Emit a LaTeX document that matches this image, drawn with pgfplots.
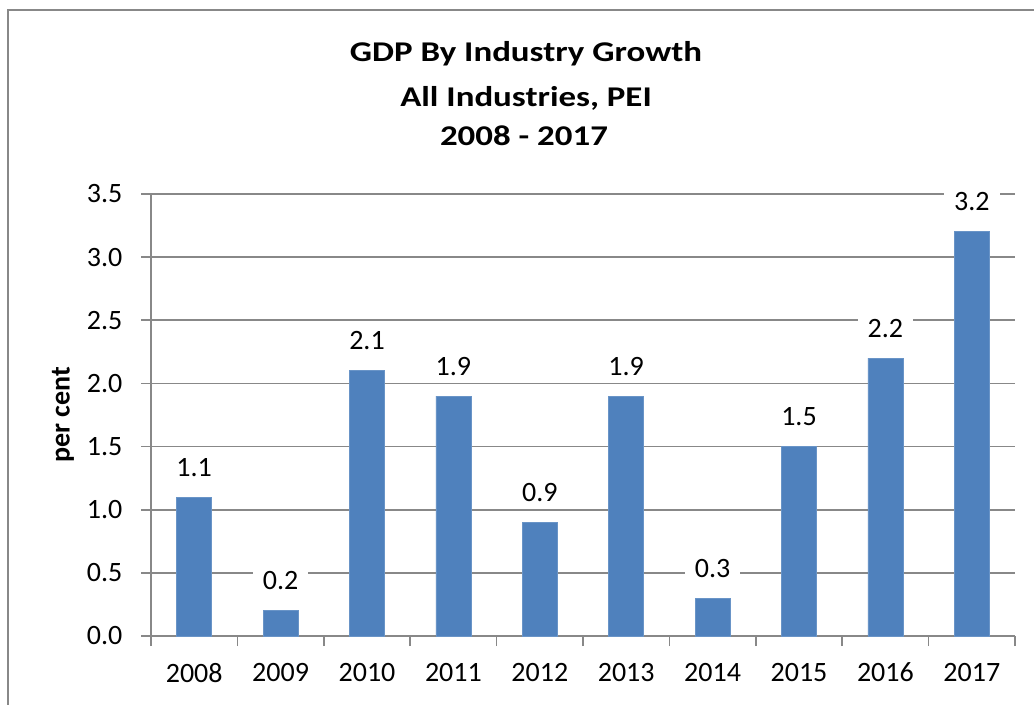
\documentclass[border=0pt]{standalone}
\usepackage{fontspec}
\setmainfont{Carlito}
\usepackage{graphicx}
\usepackage{pgfplots}
\pgfplotsset{compat=1.18}
\definecolor{barblue}{HTML}{4F81BD}
\definecolor{gridgray}{HTML}{888888}
\newcommand{\charttitle}[1]{\scalebox{1.22}[1]{\bfseries\fontsize{14.3}{16}\selectfont #1}}
\begin{document}
\begin{tikzpicture}
\useasboundingbox (0,0) rectangle (517pt,-352.5pt);
% chart frame (only top and left edges show)
\draw[gridgray, line width=0.9pt] (4pt,-400pt) -- (4pt,-5pt) -- (600pt,-5pt);
\begin{axis}[
    at={(75.5pt,-318pt)}, anchor=south west,
    width=432pt, height=221pt, scale only axis,
    font=\fontsize{14}{16}\selectfont,
    xmin=0.5, xmax=10.5,
    ymin=0, ymax=3.5,
    axis x line*=bottom, axis y line*=left,
    axis line style={gridgray, line width=0.8pt, -},
    tick align=outside,
    major tick length=5pt,
    tick style={gridgray, line width=0.8pt},
    ymajorgrids,
    grid style={gridgray, line width=0.8pt},
    ytick={0,0.5,...,3.5},
    yticklabel style={/pgf/number format/fixed, /pgf/number format/fixed zerofill,
        /pgf/number format/precision=1, xshift=-5.8pt},
    /pgf/number format/assume math mode=true,
    xtick={0.5,1.5,...,10.5},
    xticklabels={},
    extra x ticks={1,2,...,10},
    extra x tick labels={2008,2009,2010,2011,2012,2013,2014,2015,2016,2017},
    extra x tick style={grid=none, tick style={draw=none},
        xticklabel style={yshift=-5pt}},
    every axis y label/.style={at={(axis description cs:0,0.5)}, xshift=-44pt,
        rotate=90, anchor=center, font=\bfseries\fontsize{14}{16}\selectfont},
    ylabel={per cent},
    nodes near coords,
    nodes near coords style={/pgf/number format/fixed, /pgf/number format/fixed zerofill,
        /pgf/number format/precision=1},
    every node near coord/.append style={anchor=base, yshift=10.5pt, fill=white,
        inner xsep=5pt, inner ysep=2pt, text=black},
]
\addplot[ybar, bar width=17.5pt, fill=barblue, draw=barblue!85!white] coordinates {
    (1,1.1) (2,0.2) (3,2.1) (4,1.9) (5,0.9)
    (6,1.9) (7,0.3) (8,1.5) (9,2.2) (10,3.2)
};
\end{axis}
\node[anchor=base] at (263pt,-30.7pt) {\charttitle{GDP By Industry Growth}};
\node[anchor=base] at (263pt,-53.5pt) {\charttitle{All Industries, PEI}};
\node[anchor=base] at (262pt,-72.6pt) {\charttitle{2008 - 2017}};
\end{tikzpicture}
\end{document}
